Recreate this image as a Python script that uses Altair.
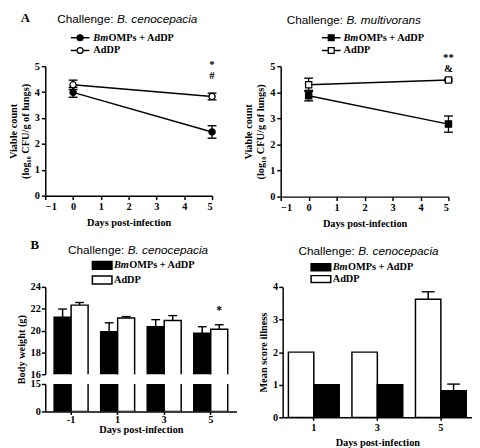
import altair as alt
import pandas as pd

SERIF = "Liberation Serif"
SANS = "Liberation Sans"
BM = "BmOMPs + AdDP"
AD = "AdDP"

# ---------------- data ----------------
# Panel A left: Challenge B. cenocepacia, viable count (log10 CFU/g of lungs)
a1_days = [0, 5]
a1_bm_mean = [3.99, 2.46]
a1_bm_err = [0.19, 0.24]
a1_ad_mean = [4.28, 3.83]
a1_ad_err = [0.18, 0.13]
a1_ann_text = ["*", "#"]
a1_ann_y = [5.03, 4.6]

# Panel A right: Challenge B. multivorans
a2_days = [0, 5]
a2_bm_mean = [3.87, 2.78]
a2_bm_err = [0.2, 0.31]
a2_ad_mean = [4.29, 4.47]
a2_ad_err = [0.25, 0.04]
a2_ann_text = ["**", "&"]
a2_ann_y = [5.32, 4.88]

# Panel B left: body weight (g)
b1_days = ["-1", "1", "3", "5"]
b1_bm_mean = [21.22, 19.9, 20.35, 19.76]
b1_bm_err = [0.75, 0.81, 0.65, 0.59]
b1_ad_mean = [22.33, 21.16, 20.93, 20.12]
b1_ad_err = [0.24, 0.12, 0.44, 0.41]
b1_ann_text = ["*"]
b1_ann_day = ["5"]
b1_ann_y = [21.9]

# Panel B right: mean score illness
b2_days = ["1", "3", "5"]
b2_ad_mean = [2.0, 2.0, 3.62]
b2_ad_err = [0.0, 0.0, 0.23]
b2_bm_mean = [1.0, 1.0, 0.82]
b2_bm_err = [0.0, 0.0, 0.2]

ONE = pd.DataFrame({"k": [0]})
FS = 10.5


def txt(text, x, y, font=SERIF, size=FS, style="normal", weight="bold",
        align="left", baseline="middle"):
    return alt.Chart(ONE).mark_text(
        text=text, font=font, fontSize=size, fontStyle=style, fontWeight=weight,
        align=align, baseline=baseline, fill="black"
    ).encode(x=alt.value(x), y=alt.value(y))


def title_marks(species, xsplit, y):
    return [
        txt("Challenge:", xsplit - 3.5, y, font=SANS, size=12, weight="normal",
            align="right", baseline="alphabetic"),
        txt(species, xsplit, y, font=SANS, size=12, style="italic", weight="normal",
            align="left", baseline="alphabetic"),
    ]


def line_legend(shape, x0, x1, ys, text_x):
    layers = []
    for y, fill in zip(ys, ["black", "white"]):
        layers.append(alt.Chart(ONE).mark_rule(color="black", strokeWidth=1.5).encode(
            x=alt.value(x0), x2=alt.value(x1), y=alt.value(y)))
        layers.append(alt.Chart(ONE).mark_point(
            shape=shape, filled=True, fill=fill, stroke="black", strokeWidth=1.3,
            size=36, opacity=1).encode(x=alt.value((x0 + x1) / 2), y=alt.value(y)))
    layers += [txt("Bm", text_x, ys[0], style="italic"),
               txt("OMPs + AdDP", text_x + 15.5, ys[0]),
               txt("AdDP", text_x, ys[1])]
    return layers


def bar_legend(x0, x1, ys, hgt, text_x):
    layers = []
    for y, fill in zip(ys, ["black", "white"]):
        layers.append(alt.Chart(ONE).mark_rect(fill=fill, stroke="black", strokeWidth=1.5).encode(
            x=alt.value(x0), x2=alt.value(x1), y=alt.value(y - hgt / 2), y2=alt.value(y + hgt / 2)))
    layers += [txt("Bm", text_x, ys[0], style="italic"),
               txt("OMPs + AdDP", text_x + 15.5, ys[0]),
               txt("AdDP", text_x, ys[1])]
    return layers


def cap(size):
    return dict(shape="stroke", size=size * size, stroke="black", strokeWidth=1.4,
                filled=False, opacity=1)


def line_panel(days, bm_mean, bm_err, ad_mean, ad_err, ann_text, ann_y, shape):
    df = pd.DataFrame({
        "day": days + days,
        "mean": bm_mean + ad_mean,
        "err": bm_err + ad_err,
        "group": [BM] * len(days) + [AD] * len(days),
    })
    df["lo"] = df["mean"] - df["err"]
    df["hi"] = df["mean"] + df["err"]
    xs = alt.Scale(domain=[-1, 5], nice=False)
    ys = alt.Scale(domain=[0, 5], nice=False)
    xax = alt.Axis(values=[-1, 0, 1, 2, 3, 4, 5], format="d", title="Days post-infection",
                   labelPadding=2, titlePadding=6, labelOverlap=False)
    yax = alt.Axis(values=[0, 1, 2, 3, 4, 5], labelPadding=2, labelOverlap=False,
                   title=["Viable count", "(log\u2081\u2080 CFU/g of lungs)"], titlePadding=4)

    def X():
        return alt.X("day:Q", scale=xs, axis=xax)

    def Y(f):
        return alt.Y(f, scale=ys, axis=yax)

    base = alt.Chart(df)
    line = base.mark_line(color="black", strokeWidth=1.5).encode(x=X(), y=Y("mean:Q"), detail="group:N")
    rule = base.mark_rule(color="black", strokeWidth=1.3).encode(x=X(), y=Y("lo:Q"), y2="hi:Q")
    cap_lo = base.mark_point(**cap(9)).encode(x=X(), y=Y("lo:Q"))
    cap_hi = base.mark_point(**cap(9)).encode(x=X(), y=Y("hi:Q"))
    pts = base.mark_point(shape=shape, filled=True, size=40, stroke="black", strokeWidth=1.3,
                          opacity=1).encode(
        x=X(), y=Y("mean:Q"),
        fill=alt.Fill("group:N", scale=alt.Scale(domain=[BM, AD], range=["black", "white"]),
                      legend=None))
    ann = alt.Chart(pd.DataFrame({"day": [5] * len(ann_text), "y": ann_y, "t": ann_text})).mark_text(
        font=SERIF, fontSize=11, fontWeight="bold", fill="black").encode(
        x=X(), y=Y("y:Q"), text="t:N")
    return [line, rule, cap_lo, cap_hi, pts, ann]


# ---------------- panel A left ----------------
a1 = alt.layer(
    *line_panel(a1_days, a1_bm_mean, a1_bm_err, a1_ad_mean, a1_ad_err, a1_ann_text, a1_ann_y, "circle"),
    txt("A", -25, -45, size=13, baseline="alphabetic"),
    *title_marks("B. cenocepacia", 73, -44),
    *line_legend("circle", 26, 45, [-29, -16], 49),
).properties(width=170, height=132)

# ---------------- panel A right ----------------
a2 = alt.layer(
    *line_panel(a2_days, a2_bm_mean, a2_bm_err, a2_ad_mean, a2_ad_err, a2_ann_text, a2_ann_y, "square"),
    *title_marks("B. multivorans", 67, -43),
    *line_legend("square", 42, 61, [-29, -16], 64),
).properties(width=171, height=133)

# ---------------- panel B left (broken axis) ----------------
b1_df = pd.DataFrame({
    "day": b1_days + b1_days,
    "group": [BM] * 4 + [AD] * 4,
    "mean": b1_bm_mean + b1_ad_mean,
    "err": b1_bm_err + b1_ad_err,
})
b1_df["hi"] = b1_df["mean"] + b1_df["err"]
b1_df["base"] = 0.0

b1_xs = alt.Scale(domain=b1_days, paddingInner=0.27, paddingOuter=0.19)
grp_l = alt.XOffset("group:N", scale=alt.Scale(domain=[BM, AD], paddingInner=0, paddingOuter=0))
fill_l = alt.Fill("group:N", scale=alt.Scale(domain=[BM, AD], range=["black", "white"]), legend=None)

TOP_H, GAP, BOT_H = 89, 10, 28
top_ys = alt.Scale(domain=[16, 24], nice=False, zero=False)
top_yax = alt.Axis(values=[16, 18, 20, 22, 24], title="Body weight (g)", labelPadding=1,
                   titlePadding=4, labelOverlap=False, titleY=(TOP_H + GAP + BOT_H) / 2)
bot_ys = alt.Scale(domain=[0, 15], nice=False, zero=False)
bot_yax = alt.Axis(values=[0, 15], title=None, labelPadding=1, labelOverlap=False)
b1_xax = alt.Axis(title="Days post-infection", labelAngle=0, ticks=True, tickSize=3,
                  labelPadding=0, titlePadding=0)


def BX(axis=None):
    return alt.X("day:N", scale=b1_xs, sort=b1_days, axis=axis)


b1_top = alt.layer(
    alt.Chart(b1_df).mark_bar(stroke="black", strokeWidth=1.5, clip=True).encode(
        x=BX(), xOffset=grp_l, y=alt.Y("mean:Q", scale=top_ys, stack=None, axis=top_yax),
        y2="base:Q", fill=fill_l),
    alt.Chart(b1_df).mark_rule(color="black", strokeWidth=1.5).encode(
        x=BX(), xOffset=grp_l, y=alt.Y("mean:Q", scale=top_ys, axis=top_yax), y2="hi:Q"),
    alt.Chart(b1_df).mark_point(**cap(9)).encode(
        x=BX(), xOffset=grp_l, y=alt.Y("hi:Q", scale=top_ys, axis=top_yax)),
    alt.Chart(pd.DataFrame({"day": b1_ann_day, "group": [AD], "y": b1_ann_y, "t": b1_ann_text})).mark_text(
        font=SERIF, fontSize=12, fontWeight="bold", fill="black").encode(
        x=BX(), xOffset=grp_l, y=alt.Y("y:Q", scale=top_ys, axis=top_yax), text="t:N"),
    txt("B", -15, -39, size=13, baseline="alphabetic"),
    *title_marks("B. cenocepacia", 84, -34),
    *bar_legend(48, 68, [-22, -7], 8, 70),
).properties(width=195, height=TOP_H)

b1_bot = alt.Chart(b1_df).mark_bar(stroke="black", strokeWidth=1.5, clip=True).encode(
    x=BX(b1_xax), xOffset=grp_l, y=alt.Y("mean:Q", scale=bot_ys, stack=None, axis=bot_yax),
    y2="base:Q", fill=fill_l,
).properties(width=195, height=BOT_H)

b1 = alt.vconcat(b1_top, b1_bot, spacing=GAP, bounds="flush")

# ---------------- panel B right ----------------
b2_df = pd.DataFrame({
    "day": b2_days + b2_days,
    "group": [AD] * 3 + [BM] * 3,
    "mean": b2_ad_mean + b2_bm_mean,
    "err": b2_ad_err + b2_bm_err,
})
b2_df["hi"] = b2_df["mean"] + b2_df["err"]
b2_xs = alt.Scale(domain=b2_days, paddingInner=0.2, paddingOuter=0.09)
b2_ys = alt.Scale(domain=[0, 4], nice=False)
b2_xax = alt.Axis(title="Days post-infection", labelAngle=0, ticks=True, tickSize=3,
                  labelPadding=2, titlePadding=5)
b2_yax = alt.Axis(values=[0, 1, 2, 3, 4], title="Mean score illness", labelPadding=1,
                  titlePadding=4, labelOverlap=False)
grp_r = alt.XOffset("group:N", scale=alt.Scale(domain=[AD, BM], paddingInner=0, paddingOuter=0))
fill_r = alt.Fill("group:N", scale=alt.Scale(domain=[BM, AD], range=["black", "white"]), legend=None)


def B2X():
    return alt.X("day:N", scale=b2_xs, sort=b2_days, axis=b2_xax)


b2_err_df = b2_df[b2_df["err"] > 0]
b2 = alt.layer(
    alt.Chart(b2_df).mark_bar(stroke="black", strokeWidth=1.5).encode(
        x=B2X(), xOffset=grp_r, y=alt.Y("mean:Q", scale=b2_ys, stack=None, axis=b2_yax), fill=fill_r),
    alt.Chart(b2_err_df).mark_rule(color="black", strokeWidth=1.5).encode(
        x=B2X(), xOffset=grp_r, y=alt.Y("mean:Q", scale=b2_ys, axis=b2_yax), y2="hi:Q"),
    alt.Chart(b2_err_df).mark_point(**cap(13)).encode(
        x=B2X(), xOffset=grp_r, y=alt.Y("hi:Q", scale=b2_ys, axis=b2_yax)),
    *title_marks("B. cenocepacia", 77, -33),
    *bar_legend(29, 49, [-20, -8], 7, 51),
).properties(width=193, height=133)

row1 = alt.hconcat(a1, a2, spacing=24)
row2 = alt.concat(b1, b2, columns=2, spacing=22, align="none").resolve_scale(
    xOffset="independent", fill="independent", x="independent", y="independent")

chart = alt.vconcat(row1, row2, spacing=10).resolve_scale(
    xOffset="independent", fill="independent", x="independent", y="independent"
).properties(padding=0).configure_view(
    stroke=None
).configure_axis(
    grid=False, domainColor="black", domainWidth=1.5, tickColor="black", tickWidth=1.5,
    tickSize=4, labelFont=SERIF, labelFontWeight="bold", labelFontSize=FS, labelColor="black",
    titleFont=SERIF, titleFontWeight="bold", titleFontSize=FS, titleColor="black",
    labelOverlap=False,
)

chart.save("out.html", embed_options={"renderer": "svg", "actions": False})
